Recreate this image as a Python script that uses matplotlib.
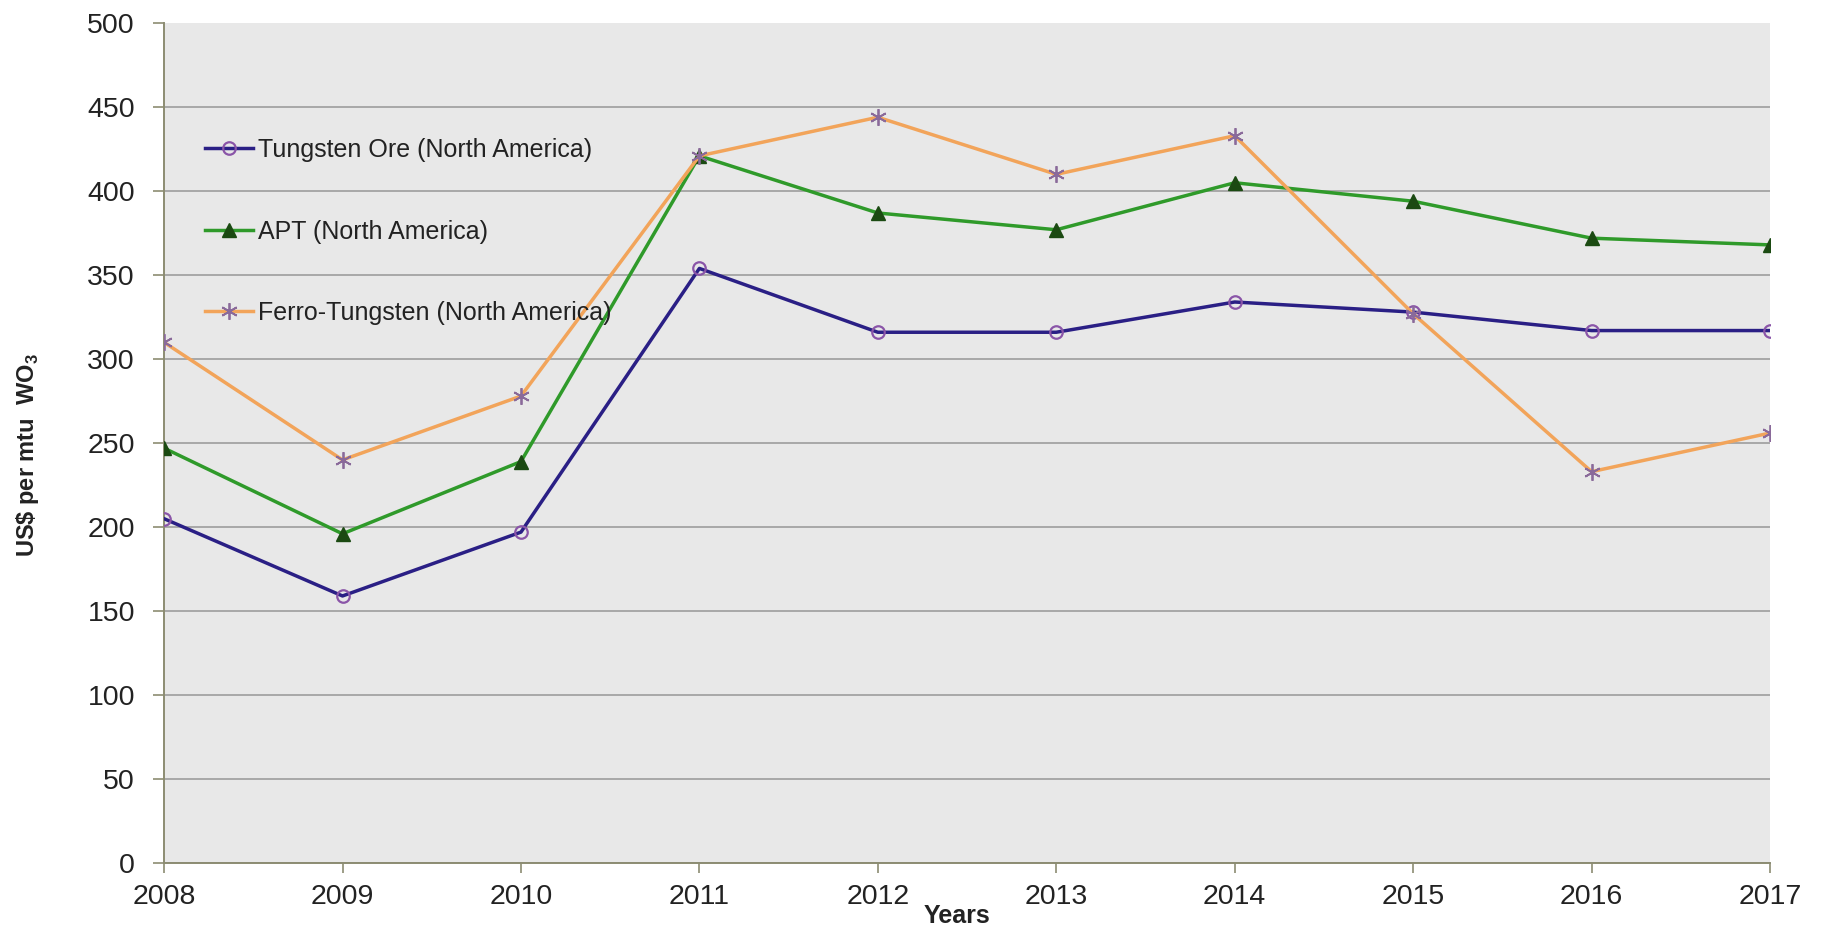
import numpy as np
import matplotlib
matplotlib.use("Agg")
import matplotlib.pyplot as plt

plt.rcParams['font.family'] = ['Liberation Sans', 'DejaVu Sans']
plt.rcParams['mathtext.fontset'] = 'custom'
plt.rcParams['mathtext.rm'] = 'Liberation Sans'
plt.rcParams['mathtext.bf'] = 'Liberation Sans:bold'

# prices, US$ per mtu WO3
years = [2008, 2009, 2010, 2011, 2012, 2013, 2014, 2015, 2016, 2017]
ore = [205, 159, 197, 354, 316, 316, 334, 328, 317, 317]
apt = [247, 196, 239, 421, 387, 377, 405, 394, 372, 368]
ferro = [310, 240, 278, 421, 444, 410, 433, 327, 233, 256]

series_names = ["Tungsten Ore (North America)",
                "APT (North America)",
                "Ferro-Tungsten (North America)"]
yticks = np.arange(0, 501, 50)

fig = plt.figure(figsize=(18.21, 9.27), dpi=100)
ax = fig.add_axes([0.0901, 0.069, 0.8819, 0.906])
ax.set_facecolor("#e8e8e8")

ax.plot(years, ore, color="#2a1f85", lw=2.5, marker="o", ms=9,
        mfc="none", mec="#8a55a8", mew=1.6, label=series_names[0], zorder=3)
ax.plot(years, apt, color="#2f9a2a", lw=2.5, marker="^", ms=10,
        mfc="#1b4a12", mec="#1b4a12", label=series_names[1], zorder=3)
ax.plot(years, ferro, color="#f2a45a", lw=2.5, marker=(6, 2, 0), ms=12,
        mec="#8a6a9a", mew=1.3, label=series_names[2], zorder=3)

ax.set_xlim(2008, 2017)
ax.set_ylim(0, 500)
ax.set_xticks(years)
ax.set_yticks(yticks)
ax.yaxis.grid(True, color="#a8a8a8", lw=1.4)
ax.set_axisbelow(True)
# no gridline along the top edge
ax.yaxis.get_gridlines()[-1].set_visible(False)

for side in ["top", "right"]:
    ax.spines[side].set_visible(False)
for side in ["left", "bottom"]:
    ax.spines[side].set_color("#8c8c72")
    ax.spines[side].set_linewidth(1.4)

ax.tick_params(axis="y", length=8, width=1.2, color="#8c8c72",
               pad=13, labelsize=20.5, labelcolor="#222222")
ax.tick_params(axis="x", length=7, width=1.2, color="#8c8c72",
               pad=8, labelsize=20.5, labelcolor="#222222")

leg = ax.legend(loc="upper left", bbox_to_anchor=(0.0255, 0.863),
                frameon=False, fontsize=18, labelspacing=2.3,
                handlelength=1.9, handletextpad=0.2, borderpad=0,
                borderaxespad=0)
for t in leg.get_texts():
    t.set_color("#222222")

fig.text(957 / 1821, 1 - 916 / 927, "Years", ha="center", va="center",
         fontsize=18, fontweight="bold", color="#222222")
fig.text(28 / 1821, 1 - 455 / 927, r"US\$ per mtu  WO$_{\mathbf{3}}$",
         rotation=90, ha="center", va="center", fontsize=17,
         fontweight="bold", color="#222222")

fig.savefig("out.png", dpi=100, facecolor="white")
